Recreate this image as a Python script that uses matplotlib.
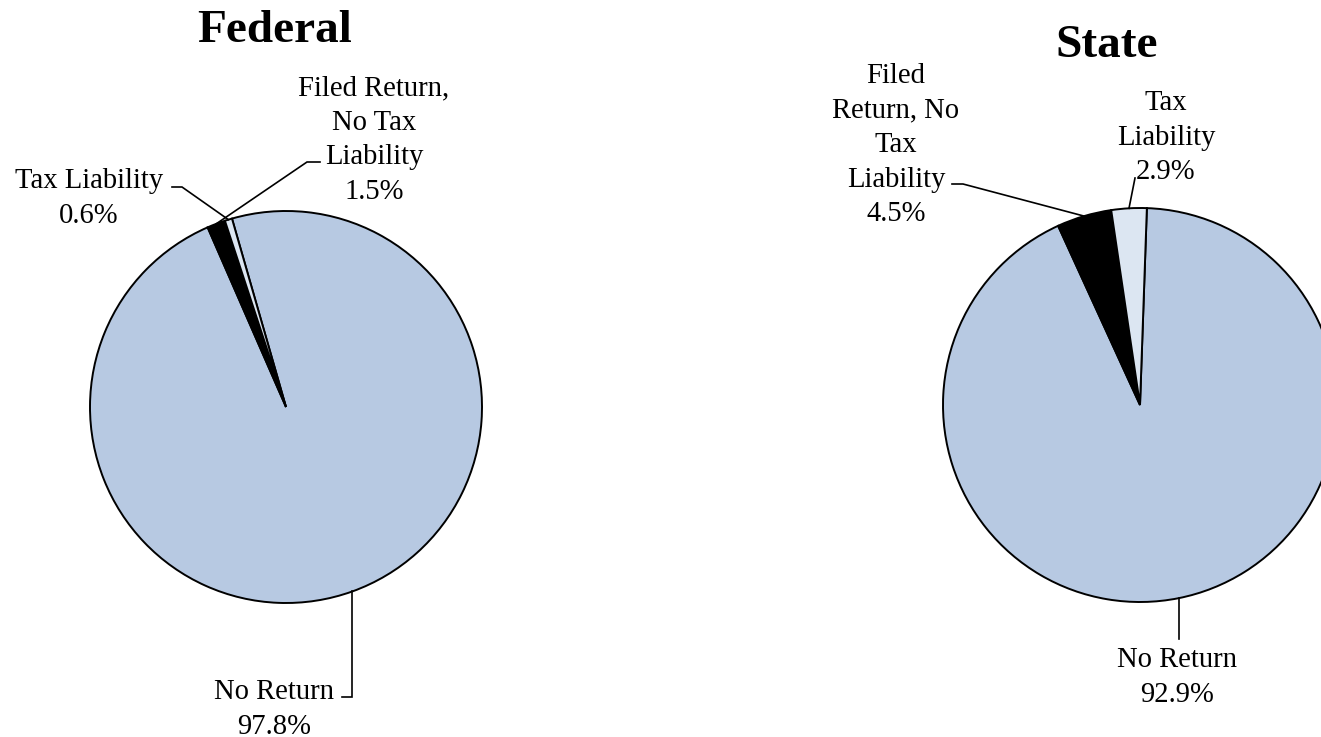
import matplotlib
matplotlib.use('Agg')
import matplotlib.pyplot as plt
import numpy as np

# ---- data ----
categories = ["No Return", "Filed Return, No Tax Liability", "Tax Liability"]
federal_values = [97.8, 1.5, 0.6]
state_values = [92.9, 4.5, 2.9]
slice_colors = ["#B7C9E2", "#000000", "#DCE6F2"]
titles = ["Federal", "State"]

# wrapped label text (layout of category names)
federal_label_lines = [["No Return"], ["Filed Return,", "No Tax", "Liability"], ["Tax Liability"]]
state_label_lines = [["No Return"], ["Filed", "Return, No", "Tax", "Liability"], ["Tax", "Liability"]]

W, H = 1321, 737
FONT = "Liberation Serif"
fig = plt.figure(figsize=(W / 100, H / 100), dpi=100)
ax = fig.add_axes([0, 0, 1, 1])


def py(y):
    return H - y


def draw_pie(values, center_px, radius, startangle):
    c = (center_px[0], py(center_px[1]))
    wedges, _ = ax.pie(values, colors=slice_colors, startangle=startangle,
                       counterclock=False, center=c, radius=radius,
                       frame=True,
                       wedgeprops=dict(edgecolor="black", linewidth=1.4))
    rims = []
    for w in wedges:
        mid = np.deg2rad((w.theta1 + w.theta2) / 2)
        rims.append((c[0] + radius * np.cos(mid), c[1] + radius * np.sin(mid)))
    return rims


fed_rims = draw_pie(federal_values, (286, 407), 196, 106)
st_rims = draw_pie(state_values, (1140, 405), 197, 88)

LS = 34.5  # line step px
FS = 20.6


def label(lines, value, cx, first_baseline):
    all_lines = lines + [f"{value:.1f}%"]
    for i, t in enumerate(all_lines):
        ax.text(cx, py(first_baseline + i * LS), t, ha="center", va="baseline",
                fontsize=FS, family=FONT, color="black")


def leader(points_px, rim):
    xs = [p[0] for p in points_px] + [rim[0]]
    ys = [py(p[1]) for p in points_px] + [rim[1]]
    ax.plot(xs, ys, color="black", lw=1.2, solid_joinstyle="miter")


# Federal labels
label(federal_label_lines[0], federal_values[0], 274, 699)
label(federal_label_lines[1], federal_values[1], 374, 95)
label(federal_label_lines[2], federal_values[2], 89, 188)
leader([(342, 697), (fed_rims[0][0], 697)], fed_rims[0])
leader([(320, 162), (307, 162)], fed_rims[1])
leader([(172, 187), (182, 187)], fed_rims[2])

# State labels
label(state_label_lines[0], state_values[0], 1177, 667)
label(state_label_lines[1], state_values[1], 896, 83)
label(state_label_lines[2], state_values[2], 1166, 110)
leader([(st_rims[0][0], 639)], st_rims[0])
leader([(952, 184), (963, 184)], st_rims[1])
leader([(1135, 178)], st_rims[2])

# Titles
ax.text(275, py(42), titles[0], ha="center", va="baseline", fontsize=34,
        fontweight="bold", family=FONT)
ax.text(1107, py(57), titles[1], ha="center", va="baseline", fontsize=34,
        fontweight="bold", family=FONT)

ax.set_xlim(0, W)
ax.set_ylim(0, H)
ax.set_aspect("auto")
ax.axis("off")

fig.savefig("out.png", dpi=100, facecolor="white")
